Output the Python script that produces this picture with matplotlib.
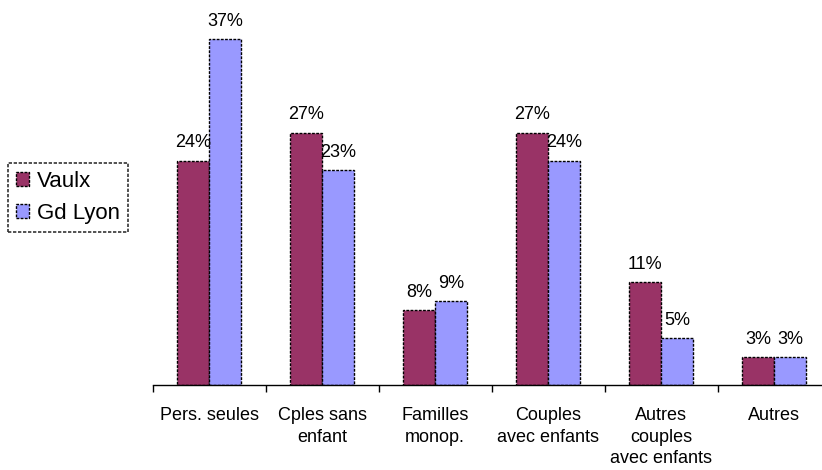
import matplotlib.pyplot as plt
import numpy as np

plt.rcParams['font.family'] = ['Liberation Sans', 'DejaVu Sans']

categories = ['Pers. seules', 'Cples sans\nenfant', 'Familles\nmonop.',
              'Couples\navec enfants', 'Autres\ncouples\navec enfants', 'Autres']
vaulx = [24, 27, 8, 27, 11, 3]
gd_lyon = [37, 23, 9, 24, 5, 3]

dash = (0, (2, 1))
fig = plt.figure(figsize=(8.22, 4.70), dpi=100)
ax = fig.add_axes([152.5 / 822, 1 - 385 / 470, 678 / 822, 374 / 470])

x = np.arange(len(categories))
w = 0.283
b1 = ax.bar(x - w / 2, vaulx, w, color='#993366', edgecolor='black',
            linewidth=1.0, linestyle=dash, label='Vaulx')
b2 = ax.bar(x + w / 2, gd_lyon, w, color='#9999FF', edgecolor='black',
            linewidth=1.0, linestyle=dash, label='Gd Lyon')

for bars, vals in ((b1, vaulx), (b2, gd_lyon)):
    for r, v in zip(bars, vals):
        ax.text(r.get_x() + r.get_width() / 2, v + 1.0, f'{v}%',
                ha='center', va='bottom', fontsize=13)

ax.set_xlim(-0.5, len(categories) - 0.5)
ax.set_ylim(0, 40)
ax.set_yticks([])
for s in ('left', 'right', 'top'):
    ax.spines[s].set_visible(False)
ax.spines['bottom'].set_linestyle(dash)
ax.spines['bottom'].set_linewidth(1.0)

ax.set_xticks(x)
ax.set_xticklabels(categories, fontsize=13, linespacing=1.35)
ax.tick_params(axis='x', which='major', length=0, pad=16)
ax.set_xticks(np.arange(len(categories) + 1) - 0.5, minor=True)
ax.tick_params(axis='x', which='minor', length=5, width=1.0, direction='out')

leg = fig.legend(handles=[b1, b2], loc='upper left',
                 bbox_to_anchor=(8 / 822, 1 - 163 / 470), fontsize=16,
                 frameon=True, fancybox=False, handlelength=0.6,
                 handleheight=0.6, handletextpad=0.35, borderpad=0.35,
                 labelspacing=0.5, borderaxespad=0)
leg.get_frame().set_edgecolor('black')
leg.get_frame().set_linestyle(dash)
leg.get_frame().set_linewidth(1.2)

plt.savefig('out.png', dpi=100)
